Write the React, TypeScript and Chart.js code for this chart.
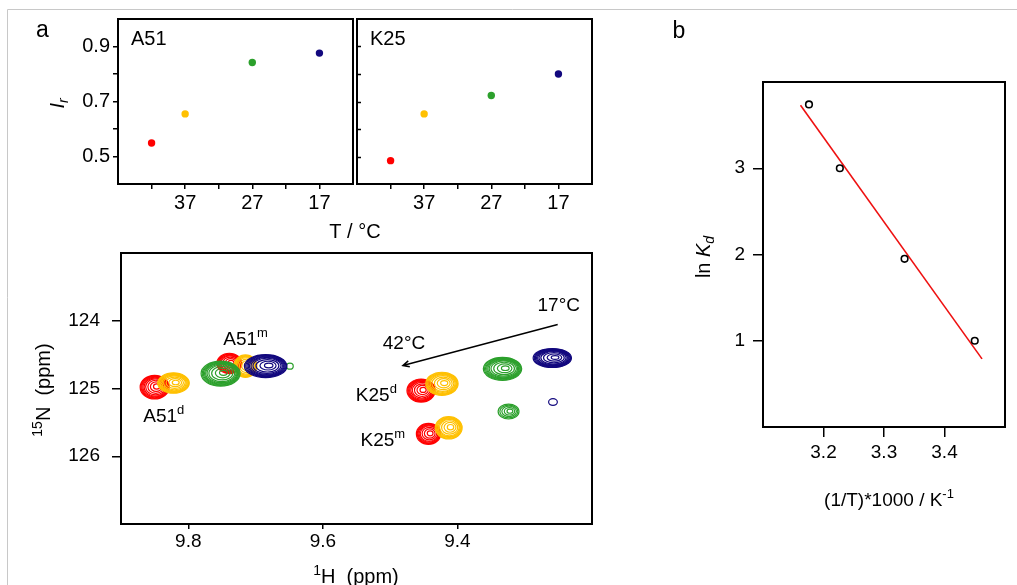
import { useEffect, useRef } from 'react';
import { Chart, registerables } from 'chart.js';

Chart.register(...registerables);

const FONT = "'Liberation Sans', Arial, Helvetica, sans-serif";
const W = 1017;
const H = 585;

// ---------- panel a (top): relative intensity vs temperature ----------
const temperatures = [42, 37, 27, 17];
const tempColors = ['#ff0000', '#ffc000', '#2ca02c', '#12087e'];
const a51Intensity = [0.549, 0.655, 0.842, 0.876];
const k25Intensity = [0.485, 0.655, 0.722, 0.8];
const tempTickValues = [42, 37, 32, 27, 22, 17];
const tempTickLabels = ['', '37', '', '27', '', '17'];
const irTickValues = [0.5, 0.6, 0.7, 0.8, 0.9];
const irTickLabels = ['0.5', '', '0.7', '', '0.9'];

// ---------- panel b: ln Kd vs 1000/T ----------
const inverseT = [3.176, 3.227, 3.334, 3.45];
const lnKd = [3.74, 3.0, 1.95, 1.0];
const fitInverseT = [3.162, 3.462];
const fitLnKd = [3.73, 0.79];
const invTTickValues = [3.2, 3.3, 3.4];
const invTTickLabels = ['3.2', '3.3', '3.4'];
const lnKdTickValues = [1, 2, 3];
const lnKdTickLabels = ['1', '2', '3'];

// ---------- panel a (bottom): 1H-15N HSQC peaks ----------
const peakTemp = [42, 37, 42, 37, 27, 17, 27, 42, 37, 42, 37, 27, 27, 17, 17];
const peakH = [9.85, 9.822, 9.739, 9.715, 9.752, 9.685, 9.649, 9.454, 9.423, 9.443, 9.413, 9.333, 9.324, 9.259, 9.258];
const peakN = [124.98, 124.92, 124.63, 124.67, 124.78, 124.67, 124.67, 125.03, 124.93, 125.67, 125.58, 124.71, 125.34, 124.55, 125.2];
const peakWidthH = [0.043, 0.047, 0.037, 0.034, 0.058, 0.063, 0.01, 0.042, 0.048, 0.036, 0.04, 0.057, 0.031, 0.057, 0.013];
const peakWidthN = [0.35, 0.3, 0.3, 0.33, 0.37, 0.34, 0.09, 0.34, 0.34, 0.31, 0.33, 0.34, 0.22, 0.28, 0.1];
const peakLevels = [9, 9, 8, 8, 10, 10, 1, 9, 9, 8, 8, 10, 5, 10, 1];
const hTickValues = [9.8, 9.6, 9.4];
const hTickLabels = ['9.8', '9.6', '9.4'];
const nTickValues = [124, 125, 126];
const nTickLabels = ['124', '125', '126'];

type Part = { t: string; it?: boolean; sup?: boolean; sub?: boolean };

const nmrLabels: { parts: Part[]; h: number; n: number }[] = [
  { parts: [{ t: 'A51' }, { t: 'm', sup: true }], h: 9.748, n: 124.26 },
  { parts: [{ t: 'A51' }, { t: 'd', sup: true }], h: 9.867, n: 125.4 },
  { parts: [{ t: 'K25' }, { t: 'd', sup: true }], h: 9.551, n: 125.09 },
  { parts: [{ t: 'K25' }, { t: 'm', sup: true }], h: 9.544, n: 125.75 },
  { parts: [{ t: '42°C' }], h: 9.511, n: 124.31 },
  { parts: [{ t: '17°C' }], h: 9.281, n: 123.75 },
];
const arrowFrom = { h: 9.251, n: 124.055 };
const arrowTo = { h: 9.481, n: 124.66 };

const RING_SETS: Record<number, number[]> = {
  1: [1],
  5: [1, 0.86, 0.7, 0.5, 0.28],
  8: [1, 0.94, 0.88, 0.81, 0.73, 0.6, 0.44, 0.24],
  9: [1, 0.95, 0.9, 0.84, 0.77, 0.68, 0.55, 0.4, 0.22],
  10: [1, 0.95, 0.9, 0.85, 0.8, 0.74, 0.66, 0.54, 0.38, 0.2],
};

function colorFor(t: number) {
  return tempColors[temperatures.indexOf(t)];
}

function drawRich(
  ctx: CanvasRenderingContext2D,
  parts: Part[],
  x: number,
  y: number,
  size: number,
  align: 'left' | 'center' = 'left',
  rotate = false
) {
  ctx.save();
  ctx.translate(x, y);
  if (rotate) ctx.rotate(-Math.PI / 2);
  const fontFor = (p: Part) =>
    `${p.it ? 'italic ' : ''}${p.sup || p.sub ? Math.round(size * 0.68) : size}px ${FONT}`;
  let total = 0;
  const ws = parts.map((p) => {
    ctx.font = fontFor(p);
    const w = ctx.measureText(p.t).width;
    total += w;
    return w;
  });
  let cx = align === 'center' ? -total / 2 : 0;
  ctx.fillStyle = '#000';
  ctx.textAlign = 'left';
  ctx.textBaseline = 'alphabetic';
  parts.forEach((p, i) => {
    ctx.font = fontFor(p);
    const dy = p.sup ? -0.42 * size : p.sub ? 0.22 * size : 0;
    ctx.fillText(p.t, cx, dy);
    cx += ws[i];
  });
  ctx.restore();
}

function fixedAxis(values: number[], labels: string[], size: number, tl: number, pad: number) {
  return {
    afterBuildTicks: (s: any) => {
      s.ticks = values.map((v) => ({ value: v }));
    },
    ticks: {
      autoSkip: false,
      maxRotation: 0,
      padding: pad,
      color: '#000',
      font: { family: FONT, size },
      callback: (v: any) => {
        const i = values.indexOf(v);
        return i >= 0 ? labels[i] : '';
      },
    },
    grid: {
      drawOnChartArea: false,
      drawTicks: true,
      tickLength: tl,
      tickWidth: 1.5,
      tickColor: '#000',
      lineWidth: 1.5,
      color: '#000',
    },
    border: { display: false },
  };
}

const framePlugin = (lw: number) => ({
  id: 'frame',
  afterDatasetsDraw(chart: any) {
    const { ctx, chartArea: a } = chart;
    ctx.save();
    ctx.strokeStyle = '#000';
    ctx.lineWidth = lw;
    ctx.strokeRect(a.left, a.top, a.right - a.left, a.bottom - a.top);
    ctx.restore();
  },
});

type Area = { left: number; top: number; right: number; bottom: number };

function padding(area: Area, yW: number, xH: number) {
  return {
    left: area.left - yW,
    top: area.top,
    right: W - area.right,
    bottom: H - area.bottom - xH,
  };
}

function irConfig(values: number[], name: string, first: boolean): any {
  const area: Area = first
    ? { left: 118, top: 19, right: 353, bottom: 184 }
    : { left: 357, top: 19, right: 592, bottom: 184 };
  const yW = first ? 60 : 0;
  const xH = 40;
  return {
    type: 'scatter',
    data: {
      datasets: [
        {
          data: temperatures.map((t, i) => ({ x: t, y: values[i] })),
          pointBackgroundColor: tempColors,
          pointBorderWidth: 0,
          pointRadius: 3.7,
          pointHoverRadius: 3.7,
        },
      ],
    },
    options: {
      responsive: false,
      animation: false,
      events: [],
      layout: { padding: padding(area, yW, xH) },
      plugins: { legend: { display: false }, tooltip: { enabled: false } },
      scales: {
        x: {
          type: 'linear',
          position: 'bottom',
          min: 12,
          max: 47,
          reverse: true,
          afterFit: (s: any) => {
            s.height = xH;
          },
          ...fixedAxis(tempTickValues, tempTickLabels, 20, 5, 2),
        },
        y: first
          ? {
              type: 'linear',
              position: 'left',
              min: 0.4,
              max: 1.0,
              afterFit: (s: any) => {
                s.width = yW;
              },
              ...fixedAxis(irTickValues, irTickLabels, 20, 5, 3),
            }
          : { type: 'linear', position: 'left', min: 0.4, max: 1.0, display: false },
      },
    },
    plugins: [
      framePlugin(2),
      {
        id: 'irText',
        afterDraw(chart: any) {
          const { ctx, chartArea: a, scales } = chart;
          drawRich(ctx, [{ t: name }], a.left + 13, a.top + 26, 20);
          if (first) {
            drawRich(ctx, [{ t: 'T / °C' }], a.right + 2, 238, 20, 'center');
            drawRich(ctx, [{ t: 'I', it: true }, { t: 'r', it: true, sub: true }], 64, 103.5, 20, 'center', true);
          } else {
            ctx.save();
            ctx.strokeStyle = '#000';
            ctx.lineWidth = 1.5;
            irTickValues.forEach((v) => {
              const py = Math.round(scales.y.getPixelForValue(v)) + 0.5;
              ctx.beginPath();
              ctx.moveTo(a.left, py);
              ctx.lineTo(a.left + 4, py);
              ctx.stroke();
            });
            ctx.restore();
          }
        },
      },
    ],
  };
}

function nmrConfig(): any {
  const area: Area = { left: 121, top: 253, right: 592, bottom: 524 };
  const yW = 60;
  const xH = 40;
  return {
    type: 'scatter',
    data: {
      datasets: temperatures.map((t) => ({
        data: peakH
          .map((h, i) => ({ x: h, y: peakN[i], t: peakTemp[i] }))
          .filter((p) => p.t === t),
        pointRadius: 0,
        pointHoverRadius: 0,
        borderColor: colorFor(t),
      })),
    },
    options: {
      responsive: false,
      animation: false,
      events: [],
      layout: { padding: padding(area, yW, xH) },
      plugins: { legend: { display: false }, tooltip: { enabled: false } },
      scales: {
        x: {
          type: 'linear',
          position: 'bottom',
          min: 9.2,
          max: 9.9,
          reverse: true,
          afterFit: (s: any) => {
            s.height = xH;
          },
          ...fixedAxis(hTickValues, hTickLabels, 19, 5, 1.5),
        },
        y: {
          type: 'linear',
          position: 'left',
          min: 123,
          max: 127,
          reverse: true,
          afterFit: (s: any) => {
            s.width = yW;
          },
          ...fixedAxis(nTickValues, nTickLabels, 19, 9, 12),
        },
      },
    },
    plugins: [
      {
        id: 'contours',
        afterDatasetsDraw(chart: any) {
          const { ctx, scales } = chart;
          const xs = scales.x;
          const ys = scales.y;
          const order = peakH.map((_, i) => i).sort((a, b) => peakTemp[b] - peakTemp[a]);
          ctx.save();
          order.forEach((i) => {
            const cx = xs.getPixelForValue(peakH[i]);
            const cy = ys.getPixelForValue(peakN[i]);
            const rx = Math.abs(xs.getPixelForValue(peakH[i] + peakWidthH[i] / 2) - cx);
            const ry = Math.abs(ys.getPixelForValue(peakN[i] + peakWidthN[i] / 2) - cy);
            ctx.strokeStyle = colorFor(peakTemp[i]);
            ctx.lineWidth = 1.2;
            const rings = RING_SETS[peakLevels[i]] || [1];
            rings.forEach((s) => {
              const off = (1 - s) * 0.18;
              ctx.beginPath();
              ctx.ellipse(cx + rx * off, cy - ry * off * 0.4, Math.max(rx * s, 1.8), Math.max(ry * s, 1.4), 0, 0, Math.PI * 2);
              ctx.stroke();
            });
          });
          ctx.restore();

          // labels
          nmrLabels.forEach((l) => {
            const px = xs.getPixelForValue(l.h);
            const py = ys.getPixelForValue(l.n);
            drawRich(ctx, l.parts, px, py + 0.36 * 19, 19);
          });

          // arrow
          const x1 = xs.getPixelForValue(arrowFrom.h);
          const y1 = ys.getPixelForValue(arrowFrom.n);
          const x2 = xs.getPixelForValue(arrowTo.h);
          const y2 = ys.getPixelForValue(arrowTo.n);
          const ang = Math.atan2(y2 - y1, x2 - x1);
          ctx.save();
          ctx.strokeStyle = '#000';
          ctx.lineWidth = 1.5;
          ctx.beginPath();
          ctx.moveTo(x1, y1);
          ctx.lineTo(x2, y2);
          ctx.moveTo(x2 - 7 * Math.cos(ang - 0.45), y2 - 7 * Math.sin(ang - 0.45));
          ctx.lineTo(x2, y2);
          ctx.lineTo(x2 - 7 * Math.cos(ang + 0.45), y2 - 7 * Math.sin(ang + 0.45));
          ctx.stroke();
          ctx.restore();
        },
      },
      framePlugin(2),
      {
        id: 'nmrTitles',
        afterDraw(chart: any) {
          const { ctx } = chart;
          drawRich(ctx, [{ t: '1', sup: true }, { t: 'H  (ppm)' }], 356, 583, 20, 'center');
          drawRich(ctx, [{ t: '15', sup: true }, { t: 'N  (ppm)' }], 50, 390, 20, 'center', true);
        },
      },
    ],
  };
}

function vantHoffConfig(): any {
  const area: Area = { left: 763, top: 82, right: 1005, bottom: 427 };
  const yW = 60;
  const xH = 40;
  return {
    type: 'scatter',
    data: {
      datasets: [
        {
          data: inverseT.map((x, i) => ({ x, y: lnKd[i] })),
          pointRadius: 3.3,
          pointHoverRadius: 3.3,
          pointBorderWidth: 1.6,
          pointBorderColor: '#000',
          pointBackgroundColor: 'rgba(0,0,0,0)',
        },
        {
          data: fitInverseT.map((x, i) => ({ x, y: fitLnKd[i] })),
          showLine: true,
          borderColor: '#ee1111',
          borderWidth: 1.6,
          pointRadius: 0,
          pointHoverRadius: 0,
        },
      ],
    },
    options: {
      responsive: false,
      animation: false,
      events: [],
      layout: { padding: padding(area, yW, xH) },
      plugins: { legend: { display: false }, tooltip: { enabled: false } },
      scales: {
        x: {
          type: 'linear',
          position: 'bottom',
          min: 3.1,
          max: 3.5,
          afterFit: (s: any) => {
            s.height = xH;
          },
          ...fixedAxis(invTTickValues, invTTickLabels, 19, 10, 4.5),
        },
        y: {
          type: 'linear',
          position: 'left',
          min: 0,
          max: 4,
          afterFit: (s: any) => {
            s.width = yW;
          },
          ...fixedAxis(lnKdTickValues, lnKdTickLabels, 19, 10, 8),
        },
      },
    },
    plugins: [
      {
        id: 'page',
        beforeDraw(chart: any) {
          const { ctx } = chart;
          ctx.save();
          ctx.strokeStyle = '#c8c8c8';
          ctx.lineWidth = 1;
          ctx.beginPath();
          ctx.moveTo(7.5, H);
          ctx.lineTo(7.5, 9.5);
          ctx.lineTo(W, 9.5);
          ctx.stroke();
          ctx.restore();
        },
        afterDraw(chart: any) {
          const { ctx } = chart;
          drawRich(ctx, [{ t: 'a' }], 36, 37, 23);
          drawRich(ctx, [{ t: 'b' }], 672.5, 38, 23);
          drawRich(ctx, [{ t: '(1/T)*1000 / K' }, { t: '-1', sup: true }], 889, 506, 19, 'center');
          drawRich(ctx, [{ t: 'ln ' }, { t: 'K', it: true }, { t: 'd', it: true, sub: true }], 710, 257, 20, 'center', true);
        },
      },
      framePlugin(2),
    ],
  };
}

export default function App() {
  const r1 = useRef<HTMLCanvasElement>(null);
  const r2 = useRef<HTMLCanvasElement>(null);
  const r3 = useRef<HTMLCanvasElement>(null);
  const r4 = useRef<HTMLCanvasElement>(null);

  useEffect(() => {
    const charts = [
      new Chart(r1.current!, irConfig(a51Intensity, 'A51', true)),
      new Chart(r2.current!, irConfig(k25Intensity, 'K25', false)),
      new Chart(r3.current!, nmrConfig()),
      new Chart(r4.current!, vantHoffConfig()),
    ];
    return () => charts.forEach((c) => c.destroy());
  }, []);

  const cs = { position: 'absolute' as const, left: 0, top: 0, width: W, height: H };
  return (
    <div style={{ position: 'fixed', left: 0, top: 0, width: W, height: H, background: '#fff', overflow: 'hidden' }}>
      <canvas ref={r1} width={W} height={H} style={cs} />
      <canvas ref={r2} width={W} height={H} style={cs} />
      <canvas ref={r3} width={W} height={H} style={cs} />
      <canvas ref={r4} width={W} height={H} style={cs} />
    </div>
  );
}
